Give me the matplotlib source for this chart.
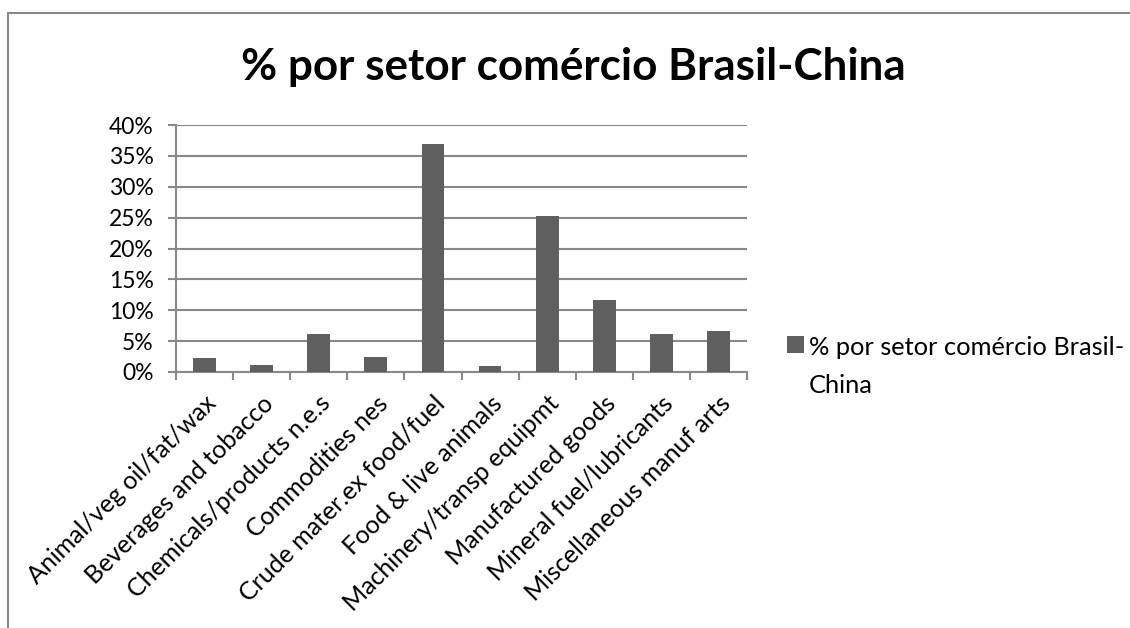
import numpy as np
import matplotlib
matplotlib.use("Agg")
import matplotlib.pyplot as plt
from matplotlib.patches import Rectangle
from matplotlib.ticker import MultipleLocator, FuncFormatter

# Share of Brazil-China trade by sector (%)
sectors = [
    "Animal/veg oil/fat/wax",
    "Beverages and tobacco",
    "Chemicals/products n.e.s",
    "Commodities nes",
    "Crude mater.ex food/fuel",
    "Food & live animals",
    "Machinery/transp equipmt",
    "Manufactured goods",
    "Mineral fuel/lubricants",
    "Miscellaneous manuf arts",
]
shares = [2.3, 1.2, 6.2, 2.4, 37.0, 1.0, 25.2, 11.7, 6.1, 6.6]
series_name = "% por setor comércio Brasil-China"

plt.rcParams['font.family'] = ['Lato', 'DejaVu Sans']

W, H = 1130, 628
fig = plt.figure(figsize=(W / 100, H / 100), dpi=100)
grey = '#888888'

# chart border (only top and left edges fall inside the image)
fig.add_artist(Rectangle((8 / W, -0.1), 2, 1.1 - 13 / H, transform=fig.transFigure,
                         fill=False, edgecolor=grey, linewidth=1.5))

ax = fig.add_axes([176 / W, 1 - 372 / H, (747 - 176) / W, (372 - 125) / H])
x = np.arange(len(sectors))
ax.bar(x, shares, width=0.4, color='#5f5f5f', label="% por setor comércio Brasil-\nChina", zorder=3)

ax.set_xlim(-0.5, len(sectors) - 0.5)
ax.set_ylim(0, 40)
ax.yaxis.set_major_locator(MultipleLocator(5))
ax.yaxis.set_major_formatter(FuncFormatter(lambda v, p: f"{v:.0f}%"))
ax.grid(axis='y', color=grey, linewidth=1.5, zorder=0)
ax.set_axisbelow(True)

for s in ['top', 'right']:
    ax.spines[s].set_visible(False)
for s in ['left', 'bottom']:
    ax.spines[s].set_color(grey)
    ax.spines[s].set_linewidth(1.5)

# tick marks at category boundaries, labels under bar centers
ax.set_xticks(np.arange(-0.5, len(sectors), 1))
ax.set_xticklabels([])
ax.set_xticks(x, minor=True)
ax.set_xticklabels(sectors, minor=True, rotation=45, ha='right', va='top',
                   rotation_mode='anchor', fontsize=18)
ax.tick_params(axis='x', which='major', length=6, width=1.5, color=grey)
ax.tick_params(axis='x', which='minor', length=0, pad=14)
ax.tick_params(axis='y', length=6, width=1.5, color=grey, labelsize=16.5, pad=10)

fig.text(573 / W, 1 - 80 / H, series_name, ha='center', va='baseline',
         fontsize=31.7, fontweight='bold')

leg = ax.legend(loc='upper left', bbox_to_anchor=(787 / W, 1 - 336 / H),
                bbox_transform=fig.transFigure, frameon=False, fontsize=18.3,
                handlelength=0.65, handleheight=0.65, handletextpad=0.2,
                borderpad=0, borderaxespad=0)
for col in leg._legend_handle_box.get_children():
    for item in col.get_children():
        item.align = 'top'
for t in leg.get_texts():
    t.set_linespacing(1.8)

fig.savefig('out.png', dpi=100)
